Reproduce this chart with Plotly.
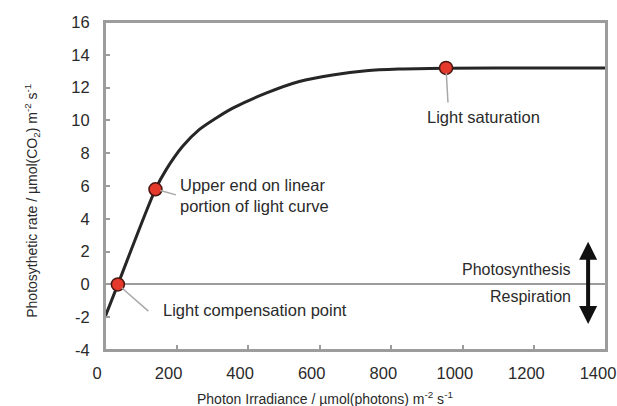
import plotly.graph_objects as go

# Light-response curve
irradiance = [0, 36, 141, 171, 217, 264, 311, 357, 450, 543, 636, 730, 823, 953, 1100, 1400]
rate = [-2.0, 0.0, 5.8, 7.0, 8.42, 9.45, 10.15, 10.75, 11.66, 12.37, 12.77, 13.03, 13.13, 13.18, 13.2, 13.2]

# Marked points
point_names = ["Light compensation point", "Upper end on linear<br>portion of light curve", "Light saturation"]
point_x = [36, 141, 953]
point_y = [0.0, 5.8, 13.2]

x_ticks = [0, 200, 400, 600, 800, 1000, 1200, 1400]
y_ticks = [-4, -2, 0, 2, 4, 6, 8, 10, 12, 14, 16]

FONT = "Liberation Sans, Arial, Helvetica, sans-serif"
TXT = "#2a2a2a"
AX = "#9c9c9c"

fig = go.Figure()
fig.add_trace(go.Scatter(
    x=irradiance, y=rate, mode="lines",
    line=dict(color="#262626", width=3, shape="spline", smoothing=0.9),
    hoverinfo="skip", showlegend=False,
))
fig.add_trace(go.Scatter(
    x=point_x, y=point_y, mode="markers",
    marker=dict(size=13, color="#e5392c", line=dict(color="#4a1510", width=1.5)),
    showlegend=False,
))

# leader lines (empty-text annotations with arrows)
leader_offsets = [(32, 28), (22, 6), (2, 36)]
for px, py, (dx, dy) in zip(point_x, point_y, leader_offsets):
    fig.add_annotation(x=px, y=py, text="", showarrow=True, arrowhead=0,
                       arrowcolor="#a8a8a8", arrowwidth=1.5, ax=dx, ay=dy, standoff=5)

# labels
label_pos = [  # (xanchor, xshift, yshift)
    ("left", 43, -26),
    ("left", 23, -6),
    ("center", 37, -49),
]
for name, px, py, (xa, xs, ys) in zip(point_names, point_x, point_y, label_pos):
    fig.add_annotation(x=px, y=py, text=name, showarrow=False, xanchor=xa,
                       yanchor="middle", xshift=xs, yshift=ys, align="left",
                       font=dict(size=16.5, color=TXT, family=FONT))

# Photosynthesis / Respiration double arrow
fig.add_annotation(x=1350, y=2.6, ax=1350, ay=-2.5, axref="x", ayref="y",
                   text="", showarrow=True, arrowside="end+start", arrowhead=2,
                   arrowsize=0.9, arrowwidth=4, arrowcolor="#111111")
fig.add_annotation(x=1350, y=0.9, text="Photosynthesis", showarrow=False,
                   xanchor="right", xshift=-15, font=dict(size=16, color=TXT, family=FONT))
fig.add_annotation(x=1350, y=-0.75, text="Respiration", showarrow=False,
                   xanchor="right", xshift=-15, font=dict(size=16, color=TXT, family=FONT))

# axis titles
fig.add_annotation(xref="paper", yref="paper", x=0.44, y=0, yshift=-48, yanchor="middle",
                   text="Photon Irradiance / µmol(photons) m<sup>-2</sup> s<sup>-1</sup>",
                   showarrow=False, font=dict(size=14, color=TXT, family=FONT))
fig.add_annotation(xref="paper", yref="paper", x=0, xshift=-85, y=0.455,
                   text="Photosythetic rate / µmol(CO<sub>2</sub>) m<sup>-2</sup> s<sup>-1</sup>",
                   textangle=-90, showarrow=False, font=dict(size=14, color=TXT, family=FONT))

# plot frame
fig.add_shape(type="rect", xref="paper", yref="paper", x0=0, x1=1, y0=0, y1=1,
              line=dict(color=AX, width=2), layer="above")

fig.update_xaxes(range=[0, 1400], tickvals=x_ticks, ticktext=[str(v) for v in x_ticks],
                 ticks="inside", ticklen=5, ticklabeloverflow="allow", automargin=False,
                 ticklabelshift=-8,
                 tickcolor=AX, tickwidth=1.5, showline=True, linecolor=AX, linewidth=2,
                 mirror=True, showgrid=False, zeroline=False, ticklabelstandoff=7,
                 tickfont=dict(size=16.5, color=TXT, family=FONT))
fig.update_yaxes(range=[-4, 16], tickvals=y_ticks, ticktext=[str(v) for v in y_ticks],
                 ticks="inside", ticklen=5, automargin=False,
                 tickcolor=AX, tickwidth=1.5, showline=True, linecolor=AX, linewidth=2,
                 mirror=True, showgrid=False, zeroline=True, zerolinecolor=AX,
                 zerolinewidth=2, ticklabelstandoff=10,
                 tickfont=dict(size=16.5, color=TXT, family=FONT))

fig.update_layout(width=617, height=406, margin=dict(l=105, r=11, t=22, b=56),
                  plot_bgcolor="white", paper_bgcolor="white",
                  font=dict(family=FONT, color=TXT))

# remove the page's default body margin and scrollbars so the figure fills the window
fig.write_html("out.html", config={"displayModeBar": False}, post_script=(
    "document.body.style.margin='0';"
    "document.documentElement.style.overflow='hidden';"
    "document.body.style.overflow='hidden';"
))
